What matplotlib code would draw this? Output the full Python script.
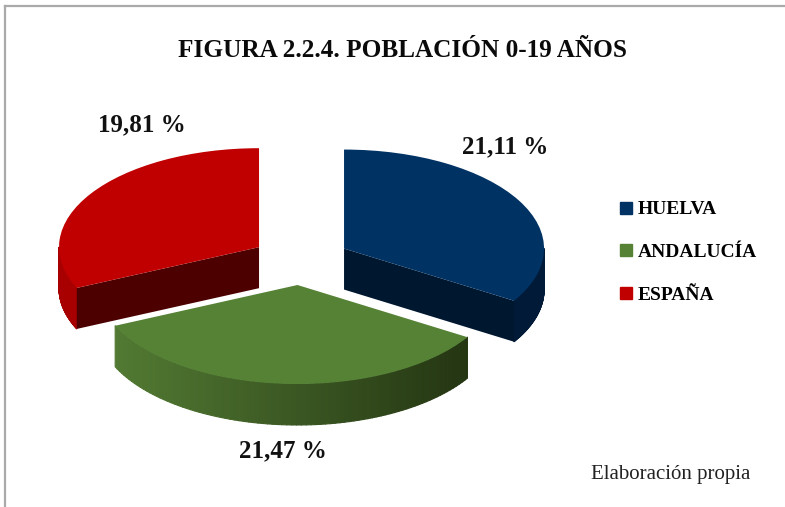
import numpy as np
import matplotlib
matplotlib.use("Agg")
import matplotlib.pyplot as plt
from matplotlib.lines import Line2D
from matplotlib.collections import PolyCollection

W, H = 785, 507
RX, RY = 200.0, 99.0      # ellipse of the tilted pie, in pixels
CX, CY = 300.7, 260.5     # pie centre, in pixels
DEPTH = 41 / RY
EXPLODE = 0.248

regiones = ["HUELVA", "ANDALUCÍA", "ESPAÑA"]
valores = [21.11, 21.47, 19.81]
colores = ["#003264", "#558235", "#c00000"]
etiqueta_pos = [(505, 147), (283, 451), (142, 125)]

plt.rcParams["font.family"] = ["Liberation Serif", "DejaVu Serif"]

def fx(px):
    return px / W

def fy(py):
    return 1 - py / H

fig = plt.figure(figsize=(W / 100, H / 100), dpi=100)
ax = fig.add_axes([0, 0, 1, 1])
wedges, _ = ax.pie(valores, colors=colores, startangle=90, counterclock=False,
                   explode=[EXPLODE] * 3, radius=1,
                   wedgeprops=dict(linewidth=0, zorder=3))
ax.set_aspect("auto")
ax.set_xlim(-CX / RX, (W - CX) / RX)
ax.set_ylim((CY - H) / RY, CY / RY)
ax.axis("off")

def punto(w, ang):
    c = np.array(w.center)
    return c + np.array([np.cos(np.radians(ang)), np.sin(np.radians(ang))])

def pared_exterior(w, a1, a2, c1, c2):
    # outer wall as thin quads so the shade can change along the rim
    angs = np.linspace(a1, a2, 90)
    polys, cols = [], []
    c1 = np.array(matplotlib.colors.to_rgb(c1))
    c2 = np.array(matplotlib.colors.to_rgb(c2))
    for i in range(len(angs) - 1):
        p, q = punto(w, angs[i]), punto(w, angs[i + 1])
        polys.append([p, q, q - [0, DEPTH], p - [0, DEPTH]])
        t = (np.cos(np.radians(angs[i])) - np.cos(np.radians(a1))) / \
            (np.cos(np.radians(a2)) - np.cos(np.radians(a1)))
        cols.append(c1 + (c2 - c1) * t)
    ax.add_collection(PolyCollection(polys, facecolors=cols, edgecolors=cols,
                                     linewidths=0.8, zorder=2))

def pared_corte(w, ang, color):
    c = np.array(w.center)
    p = punto(w, ang)
    ax.fill([c[0], p[0], p[0], c[0]], [c[1], p[1], p[1] - DEPTH, c[1] - DEPTH],
            color=color, lw=0, zorder=2)

huelva, andalucia, espana = wedges

# clockwise pie: theta1 is the far end of each slice, angles run below zero
# blue: rim from the end of the slice up to the right extreme, then the cut face
pared_exterior(huelva, huelva.theta1, 0.0, "#001a38", "#001a38")
pared_corte(huelva, huelva.theta1, "#001730")

# green: only the rim is visible
pared_exterior(andalucia, andalucia.theta1, andalucia.theta2, "#527a33", "#243512")

# red: rim on the left, cut face to the right
pared_exterior(espana, -180.0, espana.theta2, "#a80000", "#a80000")
pared_corte(espana, espana.theta2, "#4d0000")

for v, (px, py) in zip(valores, etiqueta_pos):
    fig.text(fx(px), fy(py), f"{v:.2f} %".replace(".", ","), ha="center", va="center",
             fontsize=18, fontweight="bold", color="#111111")

fig.text(fx(402), fy(50), "FIGURA 2.2.4. POBLACIÓN 0-19 AÑOS", ha="center", va="center",
         fontsize=18.2, fontweight="bold", color="#0a0a0a")
fig.text(fx(670.5), fy(474), "Elaboración propia", ha="center", va="center",
         fontsize=15, color="#222222")

handles = [Line2D([], [], linestyle="none", marker="s", markersize=8.5, color=c) for c in colores]
fig.legend(handles, regiones, loc="upper left", bbox_to_anchor=(fx(608.5), fy(191)),
           frameon=False, labelspacing=1.3, handlelength=0.8, handletextpad=0.2, borderpad=0,
           prop=dict(size=14, weight="bold"))

fig.add_artist(Line2D([fx(5), fx(5)], [fy(H), fy(6)], color="#aaaaaa", lw=1.6))
fig.add_artist(Line2D([fx(5), fx(W)], [fy(6), fy(6)], color="#aaaaaa", lw=1.6))

fig.savefig("out.png", dpi=100)
